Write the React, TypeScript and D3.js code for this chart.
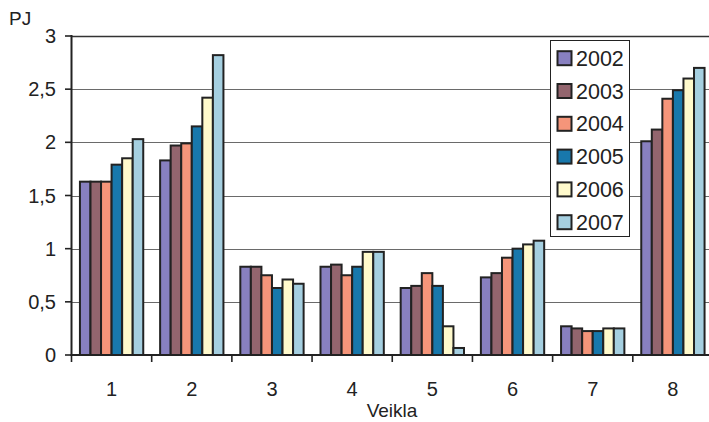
import React from "react";
import * as d3 from "d3";

const categories = ["1", "2", "3", "4", "5", "6", "7", "8"];
const seriesNames = ["2002", "2003", "2004", "2005", "2006", "2007"];
const v2002 = [1.63, 1.83, 0.83, 0.83, 0.63, 0.73, 0.27, 2.01];
const v2003 = [1.63, 1.97, 0.83, 0.85, 0.65, 0.77, 0.25, 2.12];
const v2004 = [1.63, 1.99, 0.75, 0.75, 0.77, 0.915, 0.225, 2.41];
const v2005 = [1.79, 2.15, 0.63, 0.83, 0.65, 1.0, 0.225, 2.49];
const v2006 = [1.85, 2.42, 0.71, 0.97, 0.27, 1.04, 0.25, 2.6];
const v2007 = [2.03, 2.82, 0.67, 0.97, 0.066, 1.075, 0.25, 2.7];
const seriesValues = [v2002, v2003, v2004, v2005, v2006, v2007];
const colors = ["#8880C0", "#93656E", "#F5957A", "#1878AC", "#FFFACC", "#A5CFE0"];
const yTicks = [0, 0.5, 1, 1.5, 2, 2.5, 3];
const yTickLabels = ["0", "0,5", "1", "1,5", "2", "2,5", "3"];

const W = 709;
const H = 422;
const left = 71.5;
const right = 713;
const top = 36;
const bottom = 355;
const font = "'Liberation Sans', Arial, sans-serif";
const ink = "#222";

export default function App() {
  const x = d3.scaleBand<string>().domain(categories).range([left, right]).padding(0);
  const xi = d3
    .scaleBand<string>()
    .domain(seriesNames)
    .range([0, x.bandwidth()])
    .paddingInner(0)
    .paddingOuter(0.8);
  const y = d3.scaleLinear().domain([0, 3]).range([bottom, top]);

  const legX = 550.5;
  const legY = 40.5;
  const legW = 79;
  const legH = 196;
  const rowStep = 32.8;
  const row0 = 58.2;

  return (
    <div style={{ position: "absolute", left: 0, top: 0 }}>
      <svg width={W} height={H} style={{ display: "block", background: "#fff" }}>
        {/* grid lines */}
        {yTicks.slice(1).map((t) => (
          <line
            key={"g" + t}
            x1={left}
            x2={W}
            y1={Math.round(y(t)) + 0.5}
            y2={Math.round(y(t)) + 0.5}
            stroke={t === 3 ? "#333" : "#6a6a6a"}
            strokeWidth={t === 3 ? 1.5 : 1.2}
          />
        ))}
        {/* bars */}
        {seriesValues.map((vals, si) =>
          vals.map((v, ci) => (
            <rect
              key={si + "-" + ci}
              x={(x(categories[ci]) as number) + (xi(seriesNames[si]) as number)}
              y={y(v)}
              width={xi.bandwidth()}
              height={bottom - y(v)}
              fill={colors[si]}
              stroke={ink}
              strokeWidth={2}
            />
          ))
        )}
        {/* y axis */}
        <line x1={left} x2={left} y1={top - 1} y2={bottom + 1} stroke={ink} strokeWidth={2} />
        {yTicks.map((t, i) => (
          <g key={"yt" + t}>
            <line x1={65} x2={left} y1={y(t)} y2={y(t)} stroke={ink} strokeWidth={1.6} />
            <text
              x={56}
              y={y(t) + 7}
              textAnchor="end"
              fontFamily={font}
              fontSize={20}
              fill={ink}
            >
              {yTickLabels[i]}
            </text>
          </g>
        ))}
        {/* x axis */}
        <line x1={left - 1} x2={W} y1={bottom} y2={bottom} stroke={ink} strokeWidth={2.2} />
        {categories.map((c) => (
          <line
            key={"xt" + c}
            x1={x(c) as number}
            x2={x(c) as number}
            y1={bottom}
            y2={bottom + 7}
            stroke={ink}
            strokeWidth={1.6}
          />
        ))}
        {categories.map((c) => (
          <text
            key={"xl" + c}
            x={(x(c) as number) + x.bandwidth() / 2}
            y={395.5}
            textAnchor="middle"
            fontFamily={font}
            fontSize={20}
            fill={ink}
          >
            {c}
          </text>
        ))}
        <text x={392} y={417} textAnchor="middle" fontFamily={font} fontSize={19} fill={ink}>
          Veikla
        </text>
        <text x={9} y={25} fontFamily={font} fontSize={19} fill={ink}>
          PJ
        </text>
        {/* legend */}
        <rect x={legX} y={legY} width={legW} height={legH} fill="#fff" stroke={ink} strokeWidth={1} />
        {seriesNames.map((s, i) => {
          const cy = row0 + i * rowStep;
          return (
            <g key={"leg" + s}>
              <rect
                x={557.5}
                y={cy - 7}
                width={14}
                height={14}
                fill={colors[i]}
                stroke={ink}
                strokeWidth={2}
              />
              <text x={576} y={cy + 7.5} fontFamily={font} fontSize={21.5} fill={ink}>
                {s}
              </text>
            </g>
          );
        })}
      </svg>
    </div>
  );
}
